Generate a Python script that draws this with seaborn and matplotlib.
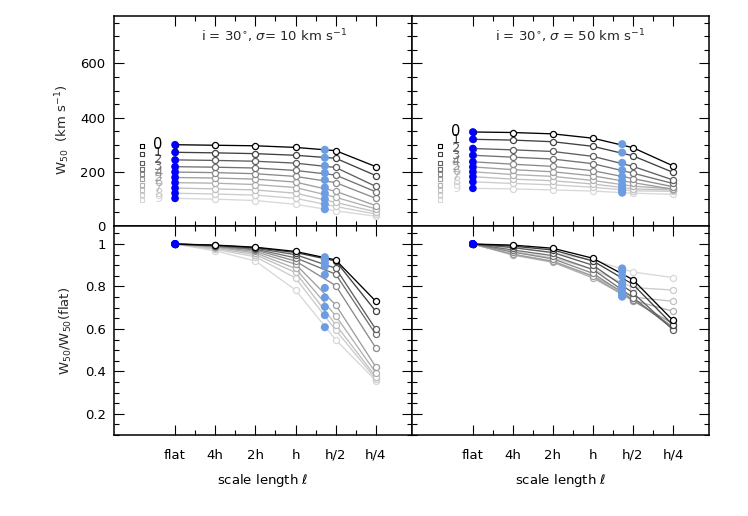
import numpy as np
import pandas as pd
import matplotlib
matplotlib.use("Agg")
import matplotlib.pyplot as plt
import seaborn as sns
from matplotlib.ticker import MultipleLocator, FixedLocator, FuncFormatter

# ---------------- data ----------------
scale_labels = ["flat", "4h", "2h", "h", "h/2", "h/4"]
curve_ids = [0, 1, 2, 3, 4, 5, 6, 7, 8, 9]

# intrinsic widths (open squares), same in both panels
w50_intrinsic = [296, 265, 231, 210, 191, 172, 153, 134, 115, 96]

# sigma = 10 km/s : W50 per curve at flat,4h,2h,h,h/2,h/4
w50_s10 = [
    [300, 298, 296, 290, 278, 219],
    [272, 270, 267, 261, 250, 186],
    [244, 242, 239, 232, 216, 146],
    [219, 217, 214, 205, 188, 126],
    [199, 197, 193, 183, 160, 102],
    [179, 177, 173, 162, 128, 75],
    [160, 158, 153, 142, 106, 63],
    [140, 137, 133, 121, 87, 52],
    [121, 118, 114, 102, 72, 44],
    [102, 99, 94, 80, 56, 36],
]
w50_s10_alt = [281, 252, 222, 196, 170, 142, 120, 99, 80, 62]

ratio_s10 = [
    [1, .995, .985, .965, .925, .730],
    [1, .994, .983, .960, .920, .683],
    [1, .993, .980, .950, .886, .598],
    [1, .991, .976, .935, .858, .574],
    [1, .990, .972, .920, .804, .510],
    [1, .988, .965, .905, .713, .421],
    [1, .985, .958, .885, .662, .393],
    [1, .980, .950, .866, .620, .374],
    [1, .975, .940, .840, .594, .364],
    [1, .968, .920, .783, .549, .356],
]
ratio_s10_alt = [.938, .925, .910, .894, .855, .793, .748, .704, .665, .608]

# sigma = 50 km/s
w50_s50 = [
    [347, 345, 340, 324, 289, 222],
    [320, 317, 311, 294, 259, 198],
    [286, 281, 275, 257, 220, 170],
    [261, 254, 247, 230, 195, 157],
    [237, 228, 220, 204, 175, 145],
    [218, 208, 200, 185, 160, 136],
    [200, 190, 183, 168, 147, 137],
    [182, 173, 167, 155, 137, 133],
    [163, 157, 152, 143, 130, 128],
    [139, 137, 133, 129, 121, 117],
]
w50_s50_alt = [302, 271, 233, 206, 183, 166, 150, 138, 130, 123]

ratio_s50 = [
    [1, .995, .980, .933, .832, .640],
    [1, .990, .972, .920, .810, .618],
    [1, .983, .960, .900, .770, .596],
    [1, .972, .945, .880, .748, .600],
    [1, .962, .930, .862, .738, .610],
    [1, .952, .918, .848, .732, .625],
    [1, .948, .914, .840, .735, .683],
    [1, .952, .920, .850, .750, .730],
    [1, .965, .935, .880, .795, .783],
    [1, .985, .957, .925, .868, .842],
]
ratio_s50_alt = [.870, .848, .815, .790, .772, .760, .752, .760, .800, .885]

# ---------------- style ----------------
greys = ["#000000", "#404040", "#5e5e5e", "#717171", "#8a8a8a",
         "#9e9e9e", "#b0b0b0", "#c0c0c0", "#cccccc", "#d8d8d8"]
BLUE = "#0000ff"
LIGHTBLUE = "#6c9de3"
ALT_X = 3.73
SQ_X = -0.82
DIGIT_X = -0.42

sns.set_theme(style="ticks")
plt.rcParams['font.family'] = ['DejaVu Sans']
plt.rcParams['mathtext.fontset'] = 'dejavusans'
FS = 9.5

fig = plt.figure(figsize=(7.48, 5.16), dpi=100)
L, M, R = 114 / 748, 412 / 748, 709 / 748
T, H, B = 1 - 16 / 516, 1 - 226 / 516, 1 - 435 / 516
ax_tl = fig.add_axes([L, H, M - L, T - H])
ax_tr = fig.add_axes([M, H, R - M, T - H])
ax_bl = fig.add_axes([L, B, M - L, H - B])
ax_br = fig.add_axes([M, B, R - M, H - B])


def draw_curves(ax, rows, alt):
    for k in reversed(range(len(rows))):
        df = pd.DataFrame({"x": np.arange(len(scale_labels)), "y": rows[k]})
        sns.lineplot(data=df, x="x", y="y", ax=ax, color=greys[k], lw=0.95,
                     marker="o", markersize=4.4, markerfacecolor="white",
                     markeredgecolor=greys[k], markeredgewidth=0.9, zorder=3)
    flat_df = pd.DataFrame({"x": [0] * len(rows), "y": [r[0] for r in rows]})
    sns.scatterplot(data=flat_df, x="x", y="y", ax=ax, color=BLUE, s=30,
                    edgecolor="none", zorder=6)
    alt_df = pd.DataFrame({"x": [ALT_X] * len(alt), "y": alt})
    sns.scatterplot(data=alt_df, x="x", y="y", ax=ax, color=LIGHTBLUE, s=34,
                    edgecolor="none", zorder=6)


def legend_marks(ax, rows):
    for k in curve_ids:
        sq = pd.DataFrame({"x": [SQ_X], "y": [w50_intrinsic[k]]})
        sns.scatterplot(data=sq, x="x", y="y", ax=ax, marker="s", s=9,
                        facecolor="white", edgecolor=greys[k], linewidth=0.8,
                        zorder=4)
    for k in reversed(curve_ids):
        ax.text(DIGIT_X, rows[k][0], str(k), color=greys[k],
                fontsize=10.5 if k == 0 else 9.5,
                ha="center", va="center", zorder=4)


draw_curves(ax_tl, w50_s10, w50_s10_alt)
legend_marks(ax_tl, w50_s10)
draw_curves(ax_tr, w50_s50, w50_s50_alt)
legend_marks(ax_tr, w50_s50)
draw_curves(ax_bl, ratio_s10, ratio_s10_alt)
draw_curves(ax_br, ratio_s50, ratio_s50_alt)

for ax in (ax_tl, ax_tr, ax_bl, ax_br):
    ax.set_xlim(-1.52, 5.9)
    ax.xaxis.set_major_locator(FixedLocator(range(len(scale_labels))))
    ax.xaxis.set_minor_locator(FixedLocator([i + 0.5 for i in range(len(scale_labels) - 1)]))
    ax.tick_params(which="both", direction="in", top=True, right=True,
                   width=0.8, color="black", labelsize=FS, labelcolor="black")
    ax.tick_params(which="major", length=7)
    ax.tick_params(which="minor", length=3.5)
    for sp in ax.spines.values():
        sp.set_linewidth(1.1)
        sp.set_color("black")
    ax.set_xlabel("")
    ax.set_ylabel("")
    ax.set_facecolor("white")

for ax in (ax_tl, ax_tr):
    ax.set_ylim(0, 775)
    ax.yaxis.set_major_locator(MultipleLocator(200))
    ax.yaxis.set_minor_locator(MultipleLocator(50))
    ax.set_xticklabels([])

for ax in (ax_bl, ax_br):
    ax.set_ylim(0.1, 1.085)
    ax.yaxis.set_major_locator(MultipleLocator(0.2))
    ax.yaxis.set_minor_locator(MultipleLocator(0.05))
    ax.yaxis.set_major_formatter(FuncFormatter(lambda v, p: f"{v:g}"))
    ax.set_xticklabels(scale_labels)
    ax.tick_params(axis="x", pad=10)
    ax.set_xlabel(r"scale length $\ell$", fontsize=FS, labelpad=7, color="black")

for ax in (ax_tr, ax_br):
    ax.set_yticklabels([])
for ax in (ax_tl, ax_bl):
    ax.tick_params(axis="y", pad=6)

ax_tl.text(0.537, 0.905, r"i = 30$^{\circ}$, $\sigma$= 10 km s$^{-1}$",
           transform=ax_tl.transAxes, ha="center", va="center", fontsize=FS)
ax_tr.text(0.532, 0.905, r"i = 30$^{\circ}$, $\sigma$ = 50 km s$^{-1}$",
           transform=ax_tr.transAxes, ha="center", va="center", fontsize=FS)

fig.text(63 / 748, 1 - 130 / 516, r"W$_{50}$  (km s$^{-1}$)", rotation=90,
         ha="center", va="center", fontsize=FS)
fig.text(66 / 748, 1 - 331 / 516, r"W$_{50}$/W$_{50}$(flat)", rotation=90,
         ha="center", va="center", fontsize=FS)

fig.savefig("out.png", dpi=100, facecolor="white")
